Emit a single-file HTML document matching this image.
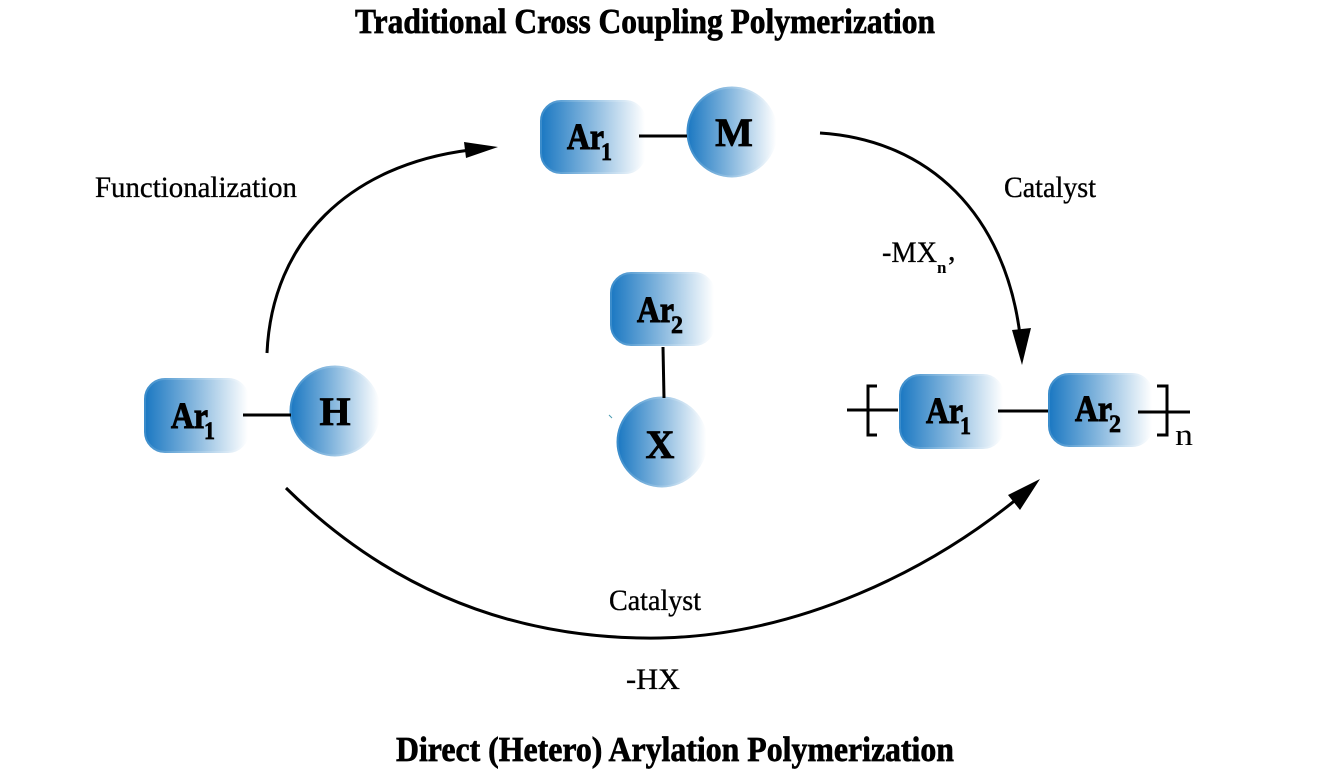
<!DOCTYPE html>
<html>
<head>
<meta charset="utf-8">
<style>
html,body{margin:0;padding:0;background:#fff;width:1320px;height:769px;overflow:hidden}
svg{display:block}
text{font-family:"Liberation Serif",serif;fill:#000}
.t{font-size:35px;font-weight:bold;stroke:#000;stroke-width:.7px}
.l{font-size:30px;stroke:#000;stroke-width:.35px}
.n{font-size:37px;font-weight:bold;stroke:#000;stroke-width:1.1px}
.c{font-size:40px;font-weight:bold;stroke:#000;stroke-width:.8px}
.s{font-size:25px;font-weight:bold;stroke:#000;stroke-width:.7px}
.shape{fill:url(#g);stroke:url(#b);stroke-width:2}
.w{fill:none;stroke:#000;stroke-width:3}
</style>
</head>
<body>
<svg width="1320" height="769" viewBox="0 0 1320 769" xmlns="http://www.w3.org/2000/svg">
<defs>
<linearGradient id="g" x1="0" y1="0" x2="1" y2="0">
<stop offset="0" stop-color="#1b78c2"/>
<stop offset=".45" stop-color="#7fb3dc"/>
<stop offset="1" stop-color="#ffffff"/>
</linearGradient>
<linearGradient id="b" x1="0" y1="0" x2="1" y2="0">
<stop offset="0" stop-color="#3a8ccb"/>
<stop offset="1" stop-color="#ffffff"/>
</linearGradient>
</defs>

<text class="t" x="355" y="33" textLength="580" lengthAdjust="spacingAndGlyphs">Traditional Cross Coupling Polymerization</text>
<text class="t" x="396" y="761" textLength="558" lengthAdjust="spacingAndGlyphs">Direct (Hetero) Arylation Polymerization</text>

<text class="l" x="95" y="197" textLength="202" lengthAdjust="spacingAndGlyphs">Functionalization</text>
<text class="l" x="1004" y="197" textLength="92" lengthAdjust="spacingAndGlyphs">Catalyst</text>
<text class="l" x="609" y="610" textLength="92" lengthAdjust="spacingAndGlyphs">Catalyst</text>
<text class="l" x="626" y="689" textLength="54" lengthAdjust="spacingAndGlyphs">-HX</text>
<text class="l" x="882" y="262" textLength="55" lengthAdjust="spacingAndGlyphs">-MX</text>
<text x="937" y="273" style="font-size:17px;font-weight:bold">n</text>
<text class="l" x="948" y="260">,</text>
<text x="1175" y="445" style="font-size:31px" textLength="18" lengthAdjust="spacingAndGlyphs">n</text>

<!-- arcs -->
<path class="w" d="M267 353 C272 240 350 165 470 150"/>
<polygon points="498,147 464,142 466,158"/>
<path class="w" d="M820 133 C930 140 1005 215 1020 335"/>
<polygon points="1022,365 1012,330 1031,328"/>
<path class="w" d="M286 488 C400 600 530 640 660 638 C800 635 930 570 1018 498"/>
<polygon points="1040,479 1008,495 1020,510"/>

<!-- shapes -->
<rect class="shape" x="541" y="101" width="104" height="72" rx="20"/>
<circle class="shape" cx="732" cy="132" r="44.5"/>
<rect class="shape" x="145" y="379" width="103" height="73" rx="20"/>
<circle class="shape" cx="335" cy="411" r="44.5"/>
<rect class="shape" x="611" y="273" width="103" height="72" rx="20"/>
<circle class="shape" cx="662" cy="442" r="44.5"/>
<rect class="shape" x="900" y="375" width="103" height="73" rx="20"/>
<rect class="shape" x="1049" y="374" width="103" height="72" rx="20"/>
<line x1="609" y1="415" x2="612" y2="418" stroke="#4a9bb0" stroke-width="1"/>

<!-- bonds (on top of the faded shape edges) -->
<line class="w" x1="639" y1="136" x2="687" y2="136"/>
<line class="w" x1="243" y1="415" x2="291" y2="415"/>
<line class="w" x1="663" y1="347" x2="664" y2="398"/>
<line class="w" x1="998" y1="411" x2="1048" y2="411"/>

<!-- brackets -->
<line class="w" x1="847" y1="410" x2="898" y2="410"/>
<path class="w" stroke-width="3" d="M877 386 H868 V435 H877"/>
<line class="w" x1="1138" y1="412" x2="1190" y2="412"/>
<path class="w" d="M1157 386 H1167 V435 H1157"/>

<!-- shape labels -->
<text class="n" x="567" y="149" textLength="37" lengthAdjust="spacingAndGlyphs">Ar</text><text class="s" x="601" y="160" textLength="11" lengthAdjust="spacingAndGlyphs">1</text>
<text class="c" x="734" y="146" text-anchor="middle">M</text>
<text class="n" x="171" y="428" textLength="37" lengthAdjust="spacingAndGlyphs">Ar</text><text class="s" x="204" y="439" textLength="11" lengthAdjust="spacingAndGlyphs">1</text>
<text class="c" x="335" y="425" text-anchor="middle">H</text>
<text class="n" x="637" y="322" textLength="37" lengthAdjust="spacingAndGlyphs">Ar</text><text class="s" x="671" y="333" textLength="12" lengthAdjust="spacingAndGlyphs">2</text>
<text class="c" x="660" y="458" text-anchor="middle">X</text>
<text class="n" x="926" y="423" textLength="37" lengthAdjust="spacingAndGlyphs">Ar</text><text class="s" x="960" y="434" textLength="11" lengthAdjust="spacingAndGlyphs">1</text>
<text class="n" x="1075" y="421" textLength="37" lengthAdjust="spacingAndGlyphs">Ar</text><text class="s" x="1109" y="432" textLength="12" lengthAdjust="spacingAndGlyphs">2</text>
</svg>
</body>
</html>
